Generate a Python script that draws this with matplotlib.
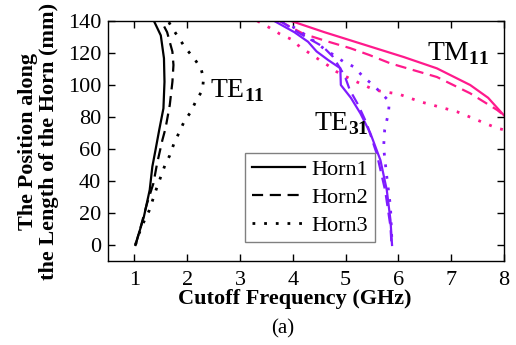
import matplotlib
matplotlib.use('Agg')
import matplotlib.pyplot as plt

plt.rcParams['font.family'] = 'Liberation Serif'
plt.rcParams['mathtext.fontset'] = 'custom'
plt.rcParams['mathtext.rm'] = 'Liberation Serif'
plt.rcParams['mathtext.bf'] = 'Liberation Serif:bold'

PINK = '#ff1a8c'
PURPLE = '#7f1cff'

# TE11 mode (black)
te11_h1_y = [0, 17.7, 34.4, 49, 59.4, 71.9, 85.4, 102, 116.7, 131, 140]
te11_h1_x = [1.02, 1.18, 1.29, 1.34, 1.40, 1.47, 1.55, 1.57, 1.56, 1.50, 1.37]
te11_h2_y = [0, 11.4, 26, 38.5, 51, 65.6, 73, 87.5, 102, 112.5, 120.8, 133, 140]
te11_h2_x = [1.02, 1.12, 1.24, 1.36, 1.43, 1.53, 1.59, 1.67, 1.72, 1.74, 1.72, 1.62, 1.51]
te11_h3_y = [0, 7.3, 14.6, 21.5, 28.5, 35.4, 42.7, 50, 56, 63.5, 70.5, 77, 83.3,
             89.6, 96.9, 104.2, 110.4, 116.7, 123, 135.4, 140]
te11_h3_x = [1.02, 1.09, 1.18, 1.28, 1.35, 1.42, 1.50, 1.58, 1.67, 1.75, 1.85, 1.94, 2.07,
             2.16, 2.29, 2.31, 2.26, 2.13, 1.97, 1.72, 1.64]

# TM11 mode (pink)
tm11_h1_y = [140, 133, 124, 117.5, 110.4, 100, 92, 81]
tm11_h1_x = [3.97, 4.6, 5.47, 6.1, 6.73, 7.36, 7.7, 8.0]
tm11_h2_y = [140, 132, 127.5, 123, 118.75, 113.5, 105, 94.8, 84.4, 81]
tm11_h2_x = [3.75, 4.20, 4.63, 5.09, 5.45, 5.85, 6.73, 7.36, 7.87, 8.0]
tm11_h3_y = [140, 135.8, 132, 128.6, 124, 119.8, 115.6, 111.5, 108.3, 104, 100.6,
             96.9, 95.8, 94.4, 89.6, 83.3, 73, 72]
tm11_h3_x = [3.33, 3.56, 3.75, 3.97, 4.13, 4.32, 4.51, 4.70, 4.83, 5.08, 5.30,
             5.55, 5.72, 6.00, 6.41, 7.11, 7.87, 8.0]

# TE31 mode (purple)
te31_h1_y = [140, 133, 127, 121, 115.6, 110.5, 100, 92, 82.3, 69.8, 53, 34.4, 15.6, 0]
te31_h1_x = [3.65, 4.03, 4.29, 4.45, 4.67, 4.90, 4.91, 5.10, 5.28, 5.47, 5.66, 5.78, 5.85, 5.88]
te31_h2_y = [140, 131.7, 124, 117.7, 106, 96.9, 87.5, 76, 57, 34, 11.5, 0]
te31_h2_x = [3.76, 4.16, 4.57, 4.76, 4.98, 5.08, 5.24, 5.40, 5.59, 5.75, 5.85, 5.87]
te31_h3_y = [140, 137.5, 130, 123, 114.6, 111.5, 105, 100, 94.8, 89.6, 82.3, 71.9,
             61, 42.7, 24, 0]
te31_h3_x = [3.80, 3.95, 4.30, 4.58, 4.96, 5.15, 5.34, 5.52, 5.68, 5.83, 5.81, 5.74,
             5.72, 5.78, 5.85, 5.88]

horns = ['Horn1', 'Horn2', 'Horn3']
solid = '-'
dashed = (0, (5, 3))
dotted = (0, (1, 3.2))

fig = plt.figure(figsize=(5.16, 3.45), dpi=100)
ax = fig.add_axes([0.2093, 0.2435, 0.7674, 0.6956])

lw = 1.6
ax.plot(te11_h1_x, te11_h1_y, color='black', ls=solid, lw=lw, label=horns[0])
ax.plot(te11_h2_x, te11_h2_y, color='black', ls=dashed, lw=lw, label=horns[1])
ax.plot(te11_h3_x, te11_h3_y, color='black', ls=dotted, lw=2.0, label=horns[2])

ax.plot(tm11_h1_x, tm11_h1_y, color=PINK, ls=solid, lw=lw)
ax.plot(tm11_h2_x, tm11_h2_y, color=PINK, ls=dashed, lw=lw)
ax.plot(tm11_h3_x, tm11_h3_y, color=PINK, ls=dotted, lw=2.0)

ax.plot(te31_h1_x, te31_h1_y, color=PURPLE, ls=solid, lw=lw)
ax.plot(te31_h2_x, te31_h2_y, color=PURPLE, ls=dashed, lw=lw)
ax.plot(te31_h3_x, te31_h3_y, color=PURPLE, ls=dotted, lw=2.0)

ax.text(2.44, 92.5, r'TE$_{\mathbf{11}}$', fontsize=20, va='baseline', ha='left')
ax.text(6.54, 115.6, r'TM$_{\mathbf{11}}$', fontsize=20, va='baseline', ha='left')
ax.text(4.41, 71.9, r'TE$_{\mathbf{31}}$', fontsize=20, va='baseline', ha='left')

ax.set_xlim(0.5, 8)
ax.set_ylim(-10, 140)
ax.set_xticks(range(1, 9))
ax.set_yticks(range(0, 141, 20))
ax.tick_params(direction='in', length=5, width=1, top=True, right=True,
               labelsize=16, pad=5)
ax.tick_params(axis='x', pad=7)
for s in ax.spines.values():
    s.set_linewidth(1)

ax.set_xlabel('Cutoff Frequency (GHz)', fontsize=16, fontweight='bold')
ax.xaxis.set_label_coords(0.471, -0.115)
ax.set_ylabel('The Position along\nthe Length of the Horn (mm)', fontsize=16,
              fontweight='bold', labelpad=6, linespacing=1.1)

leg = ax.legend(loc='upper left', bbox_to_anchor=(0.346, 0.45), borderaxespad=0,
                fontsize=16, fancybox=False, edgecolor='#808080', framealpha=1,
                handlelength=2.4, handletextpad=0.3, labelspacing=0.32,
                borderpad=0.3)
leg.get_frame().set_linewidth(1)

fig.text(283 / 516, 1 - 329 / 345, '(a)', fontsize=15, ha='center', va='center')

fig.savefig('out.png', dpi=100)
